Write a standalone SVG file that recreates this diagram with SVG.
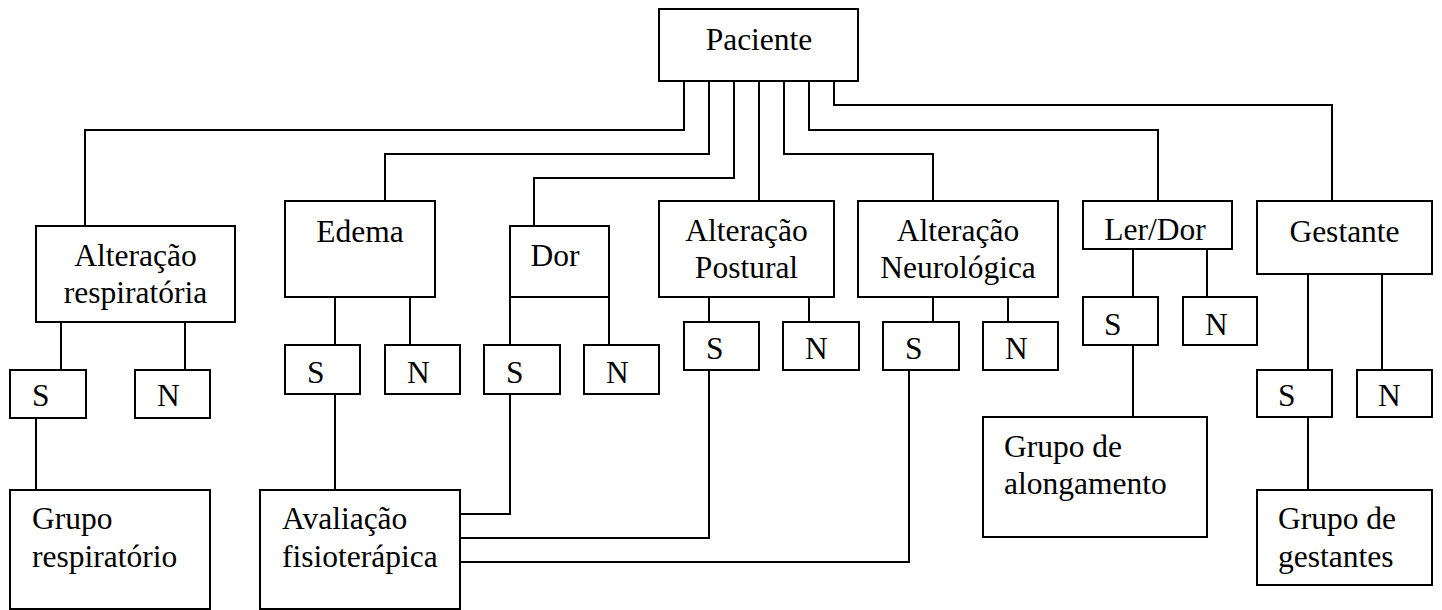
<svg xmlns="http://www.w3.org/2000/svg" width="1442" height="610" viewBox="0 0 1442 610" font-family="Liberation Serif, Times New Roman, serif" font-size="31.5">
<style>
rect{fill:#fff;stroke:#000;stroke-width:2}
.c path{fill:none;stroke:#000;stroke-width:2}
text{fill:#000}
.m{text-anchor:middle}
</style>
<rect x="0" y="0" width="1442" height="610" style="stroke:none"/>
<g class="c" id="connectors">
<path d="M684 81V130H85V226"/>
<path d="M709 81V154H385V201"/>
<path d="M734 81V178H534V226"/>
<path d="M759 81V201"/>
<path d="M784 81V154H933V201"/>
<path d="M809 81V130H1158V201"/>
<path d="M834 81V105H1332V201"/>
<path d="M61 322V370M185 322V370"/>
<path d="M36 418V490"/>
<path d="M335 297V345M410 297V345"/>
<path d="M335 394V490"/>
<path d="M510 297V345M609 297V345"/>
<path d="M510 394V514H460"/>
<path d="M709 297V322M809 297V322"/>
<path d="M709 370V538H460"/>
<path d="M933 297V322M1008 297V322"/>
<path d="M909 370V562H460"/>
<path d="M1133 249V297M1207 249V297"/>
<path d="M1133 345V417"/>
<path d="M1308 274V370M1382 274V370"/>
<path d="M1308 417V490"/>
</g>
<g id="paciente"><rect x="659" y="9" width="199" height="72"/><text class="m" x="759" y="50">Paciente</text></g>
<g id="alt-resp"><rect x="36" y="226" width="199" height="96"/><text class="m" x="135.5" y="266">Alteração</text><text class="m" x="135.5" y="303">respiratória</text></g>
<g id="edema"><rect x="285" y="201" width="150" height="96"/><text class="m" x="360" y="242">Edema</text></g>
<g id="dor"><rect x="510" y="226" width="99" height="71"/><text class="m" x="555" y="266">Dor</text></g>
<g id="alt-postural"><rect x="659" y="201" width="175" height="96"/><text class="m" x="746.5" y="241">Alteração</text><text class="m" x="746.5" y="278">Postural</text></g>
<g id="alt-neuro"><rect x="858" y="201" width="200" height="96"/><text class="m" x="958" y="241">Alteração</text><text class="m" x="958" y="278">Neurológica</text></g>
<g id="ler-dor"><rect x="1083" y="201" width="149" height="48"/><text class="m" x="1155" y="240">Ler/Dor</text></g>
<g id="gestante"><rect x="1257" y="201" width="175" height="73"/><text class="m" x="1344.5" y="242">Gestante</text></g>
<g id="resp-s"><rect x="10" y="370" width="76" height="48"/><text x="32" y="406">S</text></g>
<g id="resp-n"><rect x="135" y="370" width="75" height="48"/><text x="157" y="406">N</text></g>
<g id="edema-s"><rect x="285" y="345" width="75" height="49"/><text x="307" y="383">S</text></g>
<g id="edema-n"><rect x="385" y="345" width="75" height="49"/><text x="407" y="383">N</text></g>
<g id="dor-s"><rect x="484" y="345" width="76" height="49"/><text x="506" y="383">S</text></g>
<g id="dor-n"><rect x="584" y="345" width="75" height="49"/><text x="606" y="383">N</text></g>
<g id="postural-s"><rect x="684" y="322" width="75" height="48"/><text x="706" y="359">S</text></g>
<g id="postural-n"><rect x="783" y="322" width="76" height="48"/><text x="805" y="359">N</text></g>
<g id="neuro-s"><rect x="883" y="322" width="76" height="48"/><text x="905" y="359">S</text></g>
<g id="neuro-n"><rect x="983" y="322" width="75" height="48"/><text x="1005" y="359">N</text></g>
<g id="ler-s"><rect x="1083" y="297" width="75" height="48"/><text x="1104" y="335">S</text></g>
<g id="ler-n"><rect x="1183" y="297" width="74" height="48"/><text x="1205" y="335">N</text></g>
<g id="gest-s"><rect x="1257" y="370" width="75" height="47"/><text x="1278" y="406">S</text></g>
<g id="gest-n"><rect x="1357" y="370" width="75" height="47"/><text x="1378" y="406">N</text></g>
<g id="grupo-resp"><rect x="10" y="490" width="200" height="119"/><text x="32" y="529">Grupo</text><text x="32" y="567">respiratório</text></g>
<g id="avaliacao"><rect x="260" y="490" width="200" height="119"/><text x="282" y="529">Avaliação</text><text x="282" y="567">fisioterápica</text></g>
<g id="grupo-along"><rect x="983" y="417" width="224" height="120"/><text x="1004" y="457">Grupo de</text><text x="1004" y="494">alongamento</text></g>
<g id="grupo-gest"><rect x="1257" y="490" width="175" height="95"/><text x="1278" y="529">Grupo de</text><text x="1278" y="567">gestantes</text></g>
</svg>
